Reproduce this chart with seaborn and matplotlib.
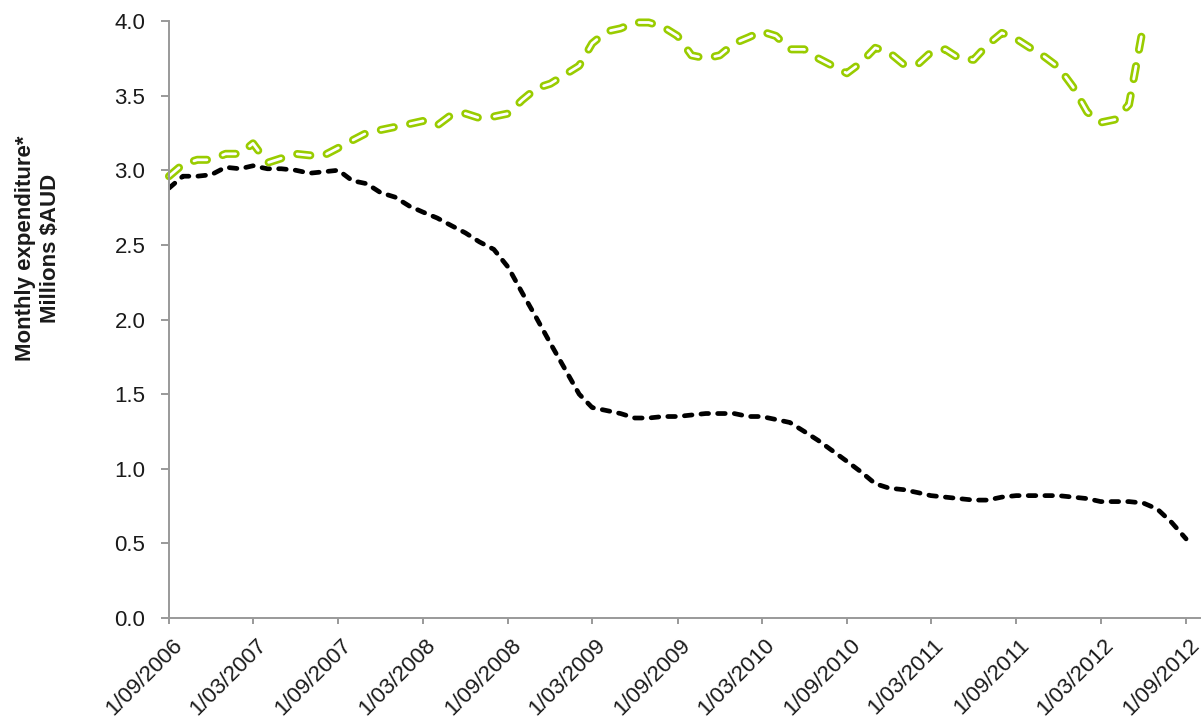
import pandas as pd
import matplotlib.pyplot as plt
import matplotlib.dates as mdates
import matplotlib.patheffects as pe
import matplotlib.transforms as mtransforms
import seaborn as sns

# Monthly values (millions AUD), starting 1/09/2006
black_vals = [2.88, 2.96, 2.96, 2.97, 3.02, 3.01, 3.03, 3.01, 3.01, 3.00,
              2.98, 2.99, 3.00, 2.93, 2.91, 2.85, 2.82, 2.76, 2.72, 2.68,
              2.63, 2.58, 2.52, 2.47, 2.35, 2.18, 2.01, 1.84, 1.67, 1.50,
              1.41, 1.39, 1.37, 1.34, 1.34, 1.35, 1.35, 1.36, 1.37, 1.37,
              1.37, 1.35, 1.35, 1.33, 1.31, 1.25, 1.19, 1.12, 1.05, 0.98,
              0.90, 0.87, 0.86, 0.84, 0.82, 0.81, 0.80, 0.79, 0.79, 0.81,
              0.82, 0.82, 0.82, 0.82, 0.81, 0.80, 0.78, 0.78, 0.78, 0.77,
              0.73, 0.64, 0.53]
green_vals = [2.96, 3.04, 3.07, 3.07, 3.11, 3.11, 3.18, 3.05, 3.08, 3.11,
              3.10, 3.10, 3.15, 3.20, 3.25, 3.27, 3.29, 3.31, 3.33, 3.30,
              3.37, 3.38, 3.35, 3.36, 3.38, 3.47, 3.55, 3.58, 3.64, 3.70,
              3.85, 3.93, 3.95, 3.99, 3.99, 3.96, 3.90, 3.77, 3.75, 3.77,
              3.85, 3.89, 3.93, 3.90, 3.81, 3.81, 3.75, 3.70, 3.65, 3.72,
              3.82, 3.79, 3.71, 3.71, 3.79, 3.81, 3.75, 3.74, 3.84, 3.92,
              3.88, 3.82, 3.76, 3.69, 3.56, 3.39, 3.32, 3.34, 3.44, 3.97]
months = pd.date_range('2006-09-01', '2012-09-01', freq='MS')

black_df = pd.DataFrame({'Month': months[:len(black_vals)], 'Expenditure': black_vals})
green_df = pd.DataFrame({'Month': months[:len(green_vals)], 'Expenditure': green_vals})

sns.set_style('white')
plt.rcParams['font.family'] = ['Liberation Sans', 'DejaVu Sans']
plt.rcParams['lines.scale_dashes'] = False

fig, ax = plt.subplots(figsize=(12.04, 7.18), dpi=100)
fig.subplots_adjust(left=169/1204, right=1200/1204, bottom=1-618/718, top=1-21/718)

sns.lineplot(data=black_df, x='Month', y='Expenditure', ax=ax, color='black',
             linewidth=3.4, errorbar=None)
sns.lineplot(data=green_df, x='Month', y='Expenditure', ax=ax, color='white',
             linewidth=2.0, errorbar=None)
black_line, green_line = ax.get_lines()[:2]

black_line.set_dashes([5.5, 6.5])
black_line.set_dash_capstyle('round')
green_line.set_dashes([9.5, 12])
green_line.set_dash_capstyle('round')
green_line.set_path_effects([pe.Stroke(linewidth=5.8, foreground='#99CC00'), pe.Normal()])
green_line.set_clip_on(False)

ax.set_ylim(0, 4)
ax.set_yticks([0, 0.5, 1, 1.5, 2, 2.5, 3, 3.5, 4])
ax.yaxis.set_major_formatter(plt.FuncFormatter(lambda v, p: f'{v:.1f}'))
ax.set_xlim(pd.Timestamp('2006-09-01'), pd.Timestamp('2012-10-01'))
ax.xaxis.set_major_locator(mdates.MonthLocator(bymonth=[3, 9]))
ax.xaxis.set_major_formatter(plt.FuncFormatter(
    lambda v, p: (lambda d: f'{d.day}/{d.month:02d}/{d.year}')(mdates.num2date(v))))

ax.set_xlabel('')
ax.set_ylabel('')
for side in ['top', 'right']:
    ax.spines[side].set_visible(False)
for side in ['left', 'bottom']:
    ax.spines[side].set_color('#999999')
    ax.spines[side].set_linewidth(1.4)

ax.tick_params(axis='both', direction='out', width=1.4, color='#999999',
               labelsize=16, labelcolor='#1a1a1a', bottom=True, left=True)
ax.tick_params(axis='y', length=6, pad=11)
ax.tick_params(axis='x', length=4.5, pad=13)
offset = mtransforms.ScaledTranslation(10/100, 0, fig.dpi_scale_trans)
for lbl in ax.get_xticklabels():
    lbl.set_rotation(45)
    lbl.set_ha('right')
    lbl.set_va('center')
    lbl.set_rotation_mode('anchor')
    lbl.set_transform(lbl.get_transform() + offset)

fig.text(38/1204, 1-248/718, 'Monthly expenditure*\nMillions $AUD', rotation=90,
         ha='center', va='center', multialignment='center', fontsize=16,
         fontweight='bold', color='#1a1a1a')

plt.savefig('out.png', dpi=100)
